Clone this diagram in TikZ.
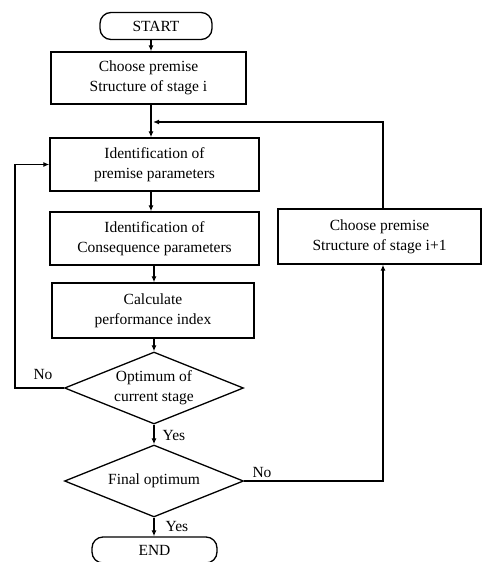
\documentclass[tikz,border=0pt]{standalone}
\usepackage{fontspec}
\setmainfont{Liberation Serif}
\usetikzlibrary{shapes.geometric,arrows.meta}
\begin{document}
\begin{tikzpicture}[x=1pt,y=-1pt,
  every node/.style={font=\fontsize{15.5}{20}\selectfont},
  box/.style={draw,line width=1.3pt,inner sep=0pt,align=center},
  term/.style={draw,line width=1.3pt,rounded corners=11pt,inner sep=0pt,align=center},
  dia/.style={draw,line width=1.3pt,diamond,aspect=2.5,inner sep=0pt,align=center},
  arr/.style={line width=1.3pt,-{Latex[length=6pt,width=5pt]}},
  lbl/.style={inner sep=0pt}]
\useasboundingbox (0,0) rectangle (482,562);
\coordinate (col) at (151,0);
\node[term,minimum width=112pt,minimum height=27pt] (start) at (156,26) {START};
\node[box,minimum width=195pt,minimum height=52pt] (b1) at (148.5,78) {Choose premise\\Structure of stage i};
\node[box,minimum width=209pt,minimum height=53pt] (b2) at (154.5,164.5) {Identification of\\premise parameters};
\node[box,minimum width=209pt,minimum height=53pt] (b3) at (154.5,238.5) {Identification of\\Consequence parameters};
\node[box,minimum width=202pt,minimum height=55pt] (b4) at (153,310.5) {Calculate\\performance index};
\node[box,minimum width=203pt,minimum height=55pt] (rb) at (379.5,236.5) {Choose premise\\Structure of stage i+1};
\node[dia,minimum width=179pt,minimum height=72pt] (d1) at (154,388) {Optimum of\\current stage};
\node[dia,minimum width=179pt,minimum height=72pt] (d2) at (154,481) {Final optimum};
\node[term,minimum width=125pt,minimum height=26pt] (end) at (154.5,550) {END};
\coordinate (j) at (153,122);
\coordinate (L) at (15,388);
\coordinate (R) at (383,481);
\draw[arr] (start.south -| col) -- (b1.north -| col);
\draw[arr] (b1.south -| col) -- (b2.north -| col);
\draw[arr] (rb.north -| R) |- (j);
\draw[arr] (b2.south -| col) -- (b3.north -| col);
\draw[arr] (b3.south -| d1.north) -- (b4.north -| d1.north);
\draw[arr] (b4.south -| d1.north) -- (d1.north);
\draw[arr] (d1.south) -- (d2.north);
\draw[arr] (d2.south) -- (end.north -| d2.south);
\draw[arr] (d1.west) -- (L) |- (b2.west);
\draw[arr] (d2.east) -- (R) -- (rb.south -| R);
\node[lbl] (no1) at (43,374) {No};
\node[lbl] (yes1) at (174,435) {Yes};
\node[lbl] (no2) at (262,472) {No};
\node[lbl] (yes2) at (177,526) {Yes};
\end{tikzpicture}
\end{document}
